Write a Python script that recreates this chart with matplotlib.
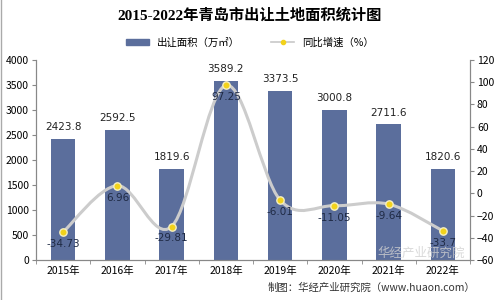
import numpy as np
import matplotlib
matplotlib.use("Agg")
import matplotlib.pyplot as plt
from matplotlib.path import Path
from matplotlib.patches import PathPatch
from matplotlib.lines import Line2D
from matplotlib.patches import Patch

plt.rcParams['font.family'] = ['Noto Sans CJK SC', 'DejaVu Sans']

years = ['2015年', '2016年', '2017年', '2018年', '2019年', '2020年', '2021年', '2022年']
area = [2423.8, 2592.5, 1819.6, 3589.2, 3373.5, 3000.8, 2711.6, 1820.6]
growth = [-34.73, 6.96, -29.81, 97.25, -6.01, -11.05, -9.64, -33.7]

bar_color = '#5b6e9c'
x = np.arange(len(years))

fig = plt.figure(figsize=(5, 3), dpi=100)
ax = fig.add_axes([0.072, 0.133, 0.868, 0.667])
ax2 = ax.twinx()

ax.bar(x, area, width=0.45, color=bar_color, zorder=2)
for xi, v in zip(x, area):
    ax.annotate(f'{v:g}', (xi, v), xytext=(0, 5), textcoords='offset points',
                ha='center', va='bottom', fontsize=7.5, color='#222222', family='DejaVu Sans')

ax.set_xlim(-0.5, len(years) - 0.5)
ax.set_ylim(0, 4000)
ax.set_yticks(range(0, 4001, 500))
ax.set_xticks(x)
ax.set_xticklabels(years, fontsize=7.5)
ax.set_xticks(np.arange(-0.5, len(years), 1), minor=True)
ax.tick_params(axis='x', which='major', length=0, pad=4)
ax.tick_params(axis='x', which='minor', length=3, color='#888888')
ax.tick_params(axis='y', labelsize=7.5, length=3, color='#888888', pad=2)

ax2.set_ylim(-60, 120)
ax2.set_yticks(range(-60, 121, 20))
ax2.tick_params(axis='y', labelsize=7.5, length=3, color='#888888', pad=2)

for a in (ax, ax2):
    a.spines['top'].set_visible(False)
    for s in ['left', 'right', 'bottom']:
        a.spines[s].set_color('#888888')
        a.spines[s].set_linewidth(0.8)

# smooth curve (Catmull-Rom as bezier segments) through the growth points
pts = np.column_stack([x, growth]).astype(float)
ext = np.vstack([pts[0], pts, pts[-1]])
verts = [tuple(pts[0])]
codes = [Path.MOVETO]
for i in range(1, len(ext) - 2):
    p0, p1, p2, p3 = ext[i - 1], ext[i], ext[i + 1], ext[i + 2]
    c1 = p1 + (p2 - p0) / 6
    c2 = p2 - (p3 - p1) / 6
    verts += [tuple(c1), tuple(c2), tuple(p2)]
    codes += [Path.CURVE4] * 3
ax2.add_patch(PathPatch(Path(verts, codes), transform=ax2.transData, fill=False,
                        edgecolor='#cccccc', lw=2.2, zorder=3))
ax2.scatter(x, growth, s=28, color='#f2d21b', edgecolors='#f5efc0', linewidths=1, zorder=4)
for xi, v in zip(x, growth):
    ax2.annotate(f'{v:g}', (xi, v), xytext=(0, -5), textcoords='offset points',
                 ha='center', va='top', fontsize=7.5, color='#1f2a44', family='DejaVu Sans')

fig.text(0.5, 0.95, '2015-2022年青岛市出让土地面积统计图', ha='center', va='center',
         fontsize=11, fontweight='bold', family=['Liberation Serif', 'Noto Sans CJK SC'])

handles = [Patch(color=bar_color), Line2D([], [], color='#c8c8c8', lw=1.2, marker='o',
                                          markersize=3, markerfacecolor='#f2d21b', markeredgecolor='#f2d21b')]
fig.legend(handles, ['出让面积（万㎡）', '同比增速（%）'], loc='center', bbox_to_anchor=(0.5, 0.858),
           ncol=2, frameon=False, fontsize=7.5, handlelength=2.2, handleheight=0.5, columnspacing=3)

fig.text(0.95, 0.04, '制图：华经产业研究院（www.huaon.com）', ha='right', va='center',
         fontsize=7.5, color='#333333')
fig.text(0.93, 0.155, '华经产业研究院', ha='right', va='center', fontsize=9, color='#d0d0d0', alpha=0.8)

fig.add_artist(plt.Line2D([0.002, 0.002], [0, 1], color='#aaaaaa', lw=1))

fig.savefig('out.png', dpi=100)
